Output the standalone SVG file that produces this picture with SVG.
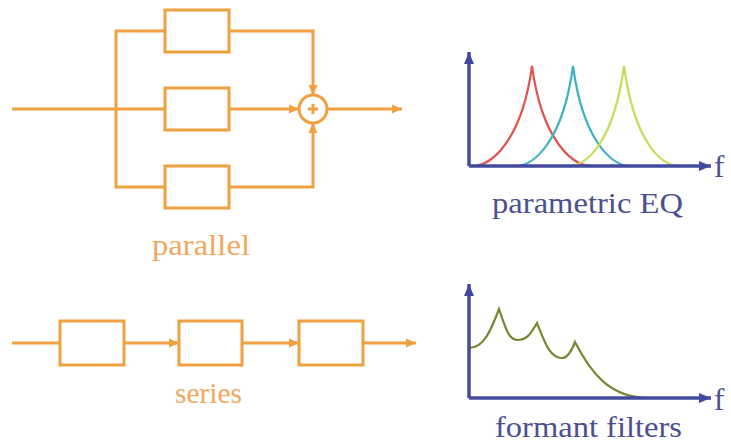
<svg xmlns="http://www.w3.org/2000/svg" width="731" height="447" viewBox="0 0 731 447">
<style>
.o{fill:none;stroke:#F0A040;stroke-width:3}
.box{fill:#fff;stroke:#F0A040;stroke-width:3}
.ax{fill:none;stroke:#434A9E;stroke-width:3.5}
.lo{font-family:"Liberation Serif","Times New Roman",serif;font-size:29px;fill:#F2A85C}
.lb{font-family:"Liberation Serif","Times New Roman",serif;font-size:29px;fill:#4A5090}
.f{font-family:"Liberation Serif","Times New Roman",serif;font-size:31px;fill:#4A5090}
.c{fill:none;stroke-width:2.2}
</style>
<defs>
<marker id="ao" markerUnits="userSpaceOnUse" markerWidth="12" markerHeight="12" viewBox="0 0 12 12" refX="11" refY="6" orient="auto">
<path d="M1,1.5 L11,6 L1,10.5 Z" fill="#F0A040"/>
</marker>
<marker id="ab" markerUnits="userSpaceOnUse" markerWidth="14" markerHeight="14" viewBox="0 0 14 14" refX="13" refY="7" orient="auto">
<path d="M1,2 L13,7 L1,12 Z" fill="#434A9E"/>
</marker>
</defs>
<rect width="731" height="447" fill="#fff"/>
<g id="connectors">
<path class="o" d="M12,109 H165"/>
<path class="o" d="M165,31 H116 V187 H165"/>
<path class="o" d="M229,31 H313 V95" marker-end="url(#ao)"/>
<path class="o" d="M229,109 H299" marker-end="url(#ao)"/>
<path class="o" d="M229,187 H313 V123" marker-end="url(#ao)"/>
<path class="o" d="M327,109 H402" marker-end="url(#ao)"/>
<path class="o" d="M12,343 H60"/>
<path class="o" d="M124,343 H179" marker-end="url(#ao)"/>
<path class="o" d="M242,343 H299" marker-end="url(#ao)"/>
<path class="o" d="M363,343 H416" marker-end="url(#ao)"/>
</g>
<g id="p1"><rect class="box" x="165" y="10" width="64" height="42"/></g>
<g id="p2"><rect class="box" x="165" y="88" width="64" height="42"/></g>
<g id="p3"><rect class="box" x="165" y="166" width="64" height="42"/></g>
<g id="sum"><circle class="box" cx="313" cy="109" r="14"/><path class="o" stroke-width="2.2" d="M308,109 H318 M313,104 V114"/></g>
<g id="parallel-label"><text class="lo" x="152" y="255" textLength="98" lengthAdjust="spacingAndGlyphs">parallel</text></g>
<g id="s1"><rect class="box" x="60" y="321" width="64" height="44"/></g>
<g id="s2"><rect class="box" x="179" y="321" width="63" height="44"/></g>
<g id="s3"><rect class="box" x="299" y="321" width="64" height="44"/></g>
<g id="series-label"><text class="lo" x="175" y="403" textLength="67" lengthAdjust="spacingAndGlyphs">series</text></g>
<g id="eq">
<path class="c" stroke="#E0554E" d="M472,166 C492,166 522,140 532,66 C542,140 572,166 592,166"/>
<path class="c" stroke="#3DB3C2" d="M515,166 C535,166 563,140 573,66 C583,140 611,166 631,166"/>
<path class="c" stroke="#C9DC55" d="M568,166 C588,166 614,140 624,66 C634,140 660,166 680,166"/>
<path class="ax" d="M469,166 V52" marker-end="url(#ab)"/>
<path class="ax" d="M469,166 H711" marker-end="url(#ab)"/>
<text class="f" x="714" y="177">f</text>
<text class="lb" x="492" y="213" textLength="191" lengthAdjust="spacingAndGlyphs">parametric EQ</text>
</g>
<g id="formant">
<path class="c" stroke="#7D8535" d="M469,348 C484,348 491,330 499,309 C505,326 508,340 518,340 C528,340 532,331 537,323 C545,343 550,358 562,358 C568,358 572,350 575,342 C592,375 610,396 645,398"/>
<path class="ax" d="M469,398 V284" marker-end="url(#ab)"/>
<path class="ax" d="M469,398 H711" marker-end="url(#ab)"/>
<text class="f" x="714" y="410">f</text>
<text class="lb" x="495" y="437" textLength="187" lengthAdjust="spacingAndGlyphs">formant filters</text>
</g>
</svg>
